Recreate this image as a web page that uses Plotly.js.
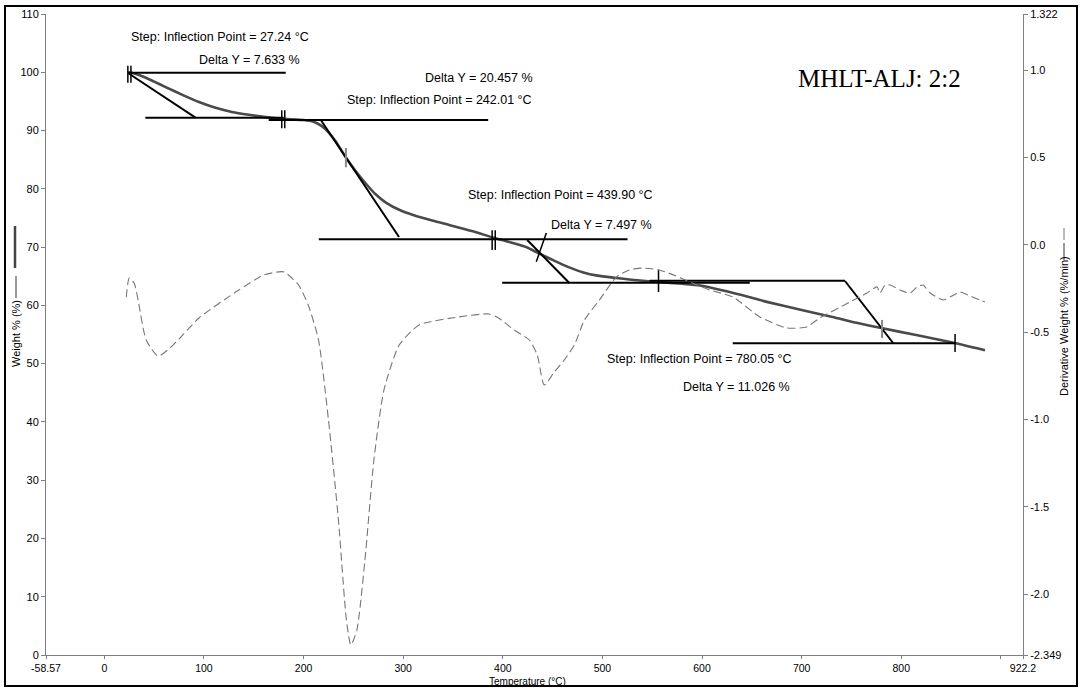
<!DOCTYPE html>
<html><head><meta charset="utf-8">
<script src="https://cdn.plot.ly/plotly-3.0.1.min.js"></script>
<style>html,body{margin:0;padding:0;background:#fff}#chart{width:1080px;height:688px}</style>
</head><body><div id="chart"></div>
<script>
// Weight % curve (TGA)
const tempW = [24,30,40,50,61,80,95,110,128,145,162,180,200,210,218,225,232,242,252,262,272,283,296,310,330,346,370,391,410,425,440,450,460,470,480,495,514,535,557,580,598,620,648,665,700,731,755,780,815,849,884];
const weight = [100,99.8,99.2,98.4,97.5,96.0,94.9,94.0,93.2,92.7,92.3,92.0,91.8,91.5,90.8,89.7,88.2,85.5,83.1,81.0,79.1,77.6,76.4,75.5,74.5,73.8,72.7,71.6,70.7,69.9,68.6,67.8,67.0,66.3,65.7,65.1,64.7,64.3,64.0,63.7,63.4,62.6,61.4,60.6,59.2,58.0,57.0,56.1,54.9,53.7,52.3];
// Derivative weight curve (DTG)
const tempD = [22,25,30,34,42,54,69,95,135,160,180,195,205,215,225,235,243,247.5,253.5,261.6,270.6,280.7,296,316,356,386,396,411.5,426.6,434.6,441.6,451.7,461.8,471.8,482,497,514,527,540,557,574,590,608,631,658,685,705,718,748.5,765.6,775.7,778.7,783.7,788.7,798.8,808.9,815.9,821.9,829,842,849,859,869,879,884];
const deriv = [-0.30,-0.19,-0.22,-0.32,-0.545,-0.637,-0.574,-0.419,-0.259,-0.173,-0.155,-0.23,-0.35,-0.545,-1.003,-1.576,-2.149,-2.292,-2.206,-1.805,-1.232,-0.831,-0.574,-0.459,-0.413,-0.396,-0.42,-0.488,-0.545,-0.631,-0.803,-0.728,-0.659,-0.574,-0.43,-0.316,-0.184,-0.144,-0.133,-0.144,-0.178,-0.218,-0.259,-0.299,-0.413,-0.476,-0.470,-0.42,-0.327,-0.276,-0.241,-0.276,-0.230,-0.230,-0.259,-0.276,-0.241,-0.230,-0.276,-0.316,-0.299,-0.27,-0.293,-0.316,-0.327];
// Step analysis construction lines
const stepLineT = [24.1,182.1,null, 24.1,91.5,null, 41.2,180,null, 165,385.3,null, 217.3,295.8,null, 215.3,525.2,null, 424.5,466.8,null, 399.4,647.9,null, 547.3,743.5,null, 743.5,791.8,null, 630.8,854.1];
const stepLineW = [99.93,99.93,null, 99.83,92.21,null, 92.21,92.21,null, 91.81,91.81,null, 91.81,71.74,null, 71.34,71.34,null, 71.22,63.84,null, 63.89,63.89,null, 64.24,64.24,null, 64.18,53.54,null, 53.49,53.49];
const markT = [23.6,23.6,null, 26.7,26.7,null, 178.1,178.1,null, 181.1,181.1,null, 389.3,389.3,null, 392.4,392.4,null, 433.6,443.7,null, 556.3,556.3,null, 854,854];
const markW = [101.1,98.2,null, 101.1,98.2,null, 93.5,90.4,null, 93.5,90.4,null, 72.9,69.5,null, 72.9,69.5,null, 67.5,72.4,null, 66.1,62.3,null, 55.1,52.0];
const inflT = [242.5,242.5,null, 780.7,780.7];
const inflW = [87.0,83.7,null, 57.5,54.4];
// Labels
const labelText = ['Step: Inflection Point = 27.24 °C','Delta Y = 7.633 %','Delta Y = 20.457 %','Step: Inflection Point = 242.01 °C','Step: Inflection Point = 439.90 °C','Delta Y = 7.497 %','Step: Inflection Point = 780.05 °C','Delta Y = 11.026 %'];
const labelT = [115.7,145.9,376.3,336,457.7,499,597.6,634.8];
const labelW = [106.1,102.1,99.0,95.2,78.9,73.8,50.8,46.0];
const xTickVals = [-58.57,0,100,200,300,400,500,600,700,800,900,922.2];
const xTickText = ['-58.57','0','100','200','300','400','500','600','700','800','','922.2'];
const yTickVals = [0,10,20,30,40,50,60,70,80,90,100,110];
const y2TickVals = [-2.349,-2.0,-1.5,-1.0,-0.5,0.0,0.5,1.0,1.322];
const y2TickText = ['-2.349','-2.0','-1.5','-1.0','-0.5','0.0','0.5','1.0','1.322'];

const F = 'Liberation Sans, Arial, sans-serif';
const traces = [
  {x: tempD, y: deriv, yaxis: 'y2', mode: 'lines', line: {color: '#777', width: 1.1, dash: '8px,4px', shape: 'spline', smoothing: 0.6}, hoverinfo: 'skip'},
  {x: tempW, y: weight, mode: 'lines', line: {color: '#4a4a4a', width: 2.6, shape: 'spline', smoothing: 0.6}, hoverinfo: 'skip'},
  {x: stepLineT, y: stepLineW, mode: 'lines', line: {color: '#000', width: 2}, connectgaps: false, hoverinfo: 'skip'},
  {x: markT, y: markW, mode: 'lines', line: {color: '#000', width: 1.5}, connectgaps: false, hoverinfo: 'skip'},
  {x: inflT, y: inflW, mode: 'lines', line: {color: '#888', width: 2}, connectgaps: false, hoverinfo: 'skip'}
];
const annotations = labelText.map((t, i) => ({x: labelT[i], y: labelW[i], xref: 'x', yref: 'y', xanchor: 'center', yanchor: 'middle', text: t, showarrow: false, font: {family: F, size: 12.5, color: '#000'}}));
annotations.push({x: 778, y: 99.0, xref: 'x', yref: 'y', xanchor: 'center', yanchor: 'middle', text: 'MHLT-ALJ: 2:2', showarrow: false, font: {family: 'Liberation Serif, Times New Roman, serif', size: 25, color: '#000'}});
const px = v => (v - 46) / 977, py = v => (655 - v) / 641;
annotations.push({x: px(527), y: py(681), xref: 'paper', yref: 'paper', xanchor: 'center', yanchor: 'middle', text: 'Temperature (°C)', showarrow: false, font: {family: F, size: 10, color: '#000'}});
annotations.push({x: px(16), y: py(334), xref: 'paper', yref: 'paper', xanchor: 'center', yanchor: 'middle', text: 'Weight % (%)', textangle: -90, showarrow: false, font: {family: F, size: 11, color: '#000'}});
annotations.push({x: px(1064), y: py(326), xref: 'paper', yref: 'paper', xanchor: 'center', yanchor: 'middle', text: 'Derivative Weight % (%/min)', textangle: -90, showarrow: false, font: {family: F, size: 11, color: '#000'}});

const axisBase = {showgrid: false, zeroline: false, showline: true, linecolor: '#808080', linewidth: 1, ticks: 'outside', ticklen: 4, tickcolor: '#808080', tickfont: {family: F, size: 11, color: '#000'}, automargin: false, fixedrange: true};
const layout = {
  width: 1080, height: 688, showlegend: false,
  paper_bgcolor: '#fff', plot_bgcolor: '#fff',
  margin: {l: 46, r: 57, t: 14, b: 33},
  xaxis: Object.assign({}, axisBase, {range: [-58.57, 922.2], tickmode: 'array', tickvals: xTickVals, ticktext: xTickText, ticklen: 3, tickfont: {family: F, size: 10.5, color: '#000'}}),
  yaxis: Object.assign({}, axisBase, {range: [0, 110], tickmode: 'array', tickvals: yTickVals}),
  yaxis2: Object.assign({}, axisBase, {range: [-2.349, 1.322], overlaying: 'y', side: 'right', tickmode: 'array', tickvals: y2TickVals, ticktext: y2TickText}),
  annotations: annotations,
  shapes: [
    {type: 'rect', xref: 'paper', yref: 'paper', x0: px(5), x1: px(1077), y0: py(686), y1: py(6), line: {color: '#000', width: 2}},
    {type: 'line', xref: 'paper', yref: 'paper', x0: px(16), x1: px(16), y0: py(298), y1: py(276), line: {color: '#333', width: 1}},
    {type: 'line', xref: 'paper', yref: 'paper', x0: px(15), x1: px(15), y0: py(268), y1: py(226), line: {color: '#444', width: 2.5}},
    {type: 'line', xref: 'paper', yref: 'paper', x0: px(1064), x1: px(1064), y0: py(260), y1: py(243), line: {color: '#333', width: 1}},
    {type: 'line', xref: 'paper', yref: 'paper', x0: px(1064), x1: px(1064), y0: py(240), y1: py(228), line: {color: '#777', width: 1}}
  ]
};
Plotly.newPlot('chart', traces, layout, {displayModeBar: false, staticPlot: true});
</script>
</body></html>
